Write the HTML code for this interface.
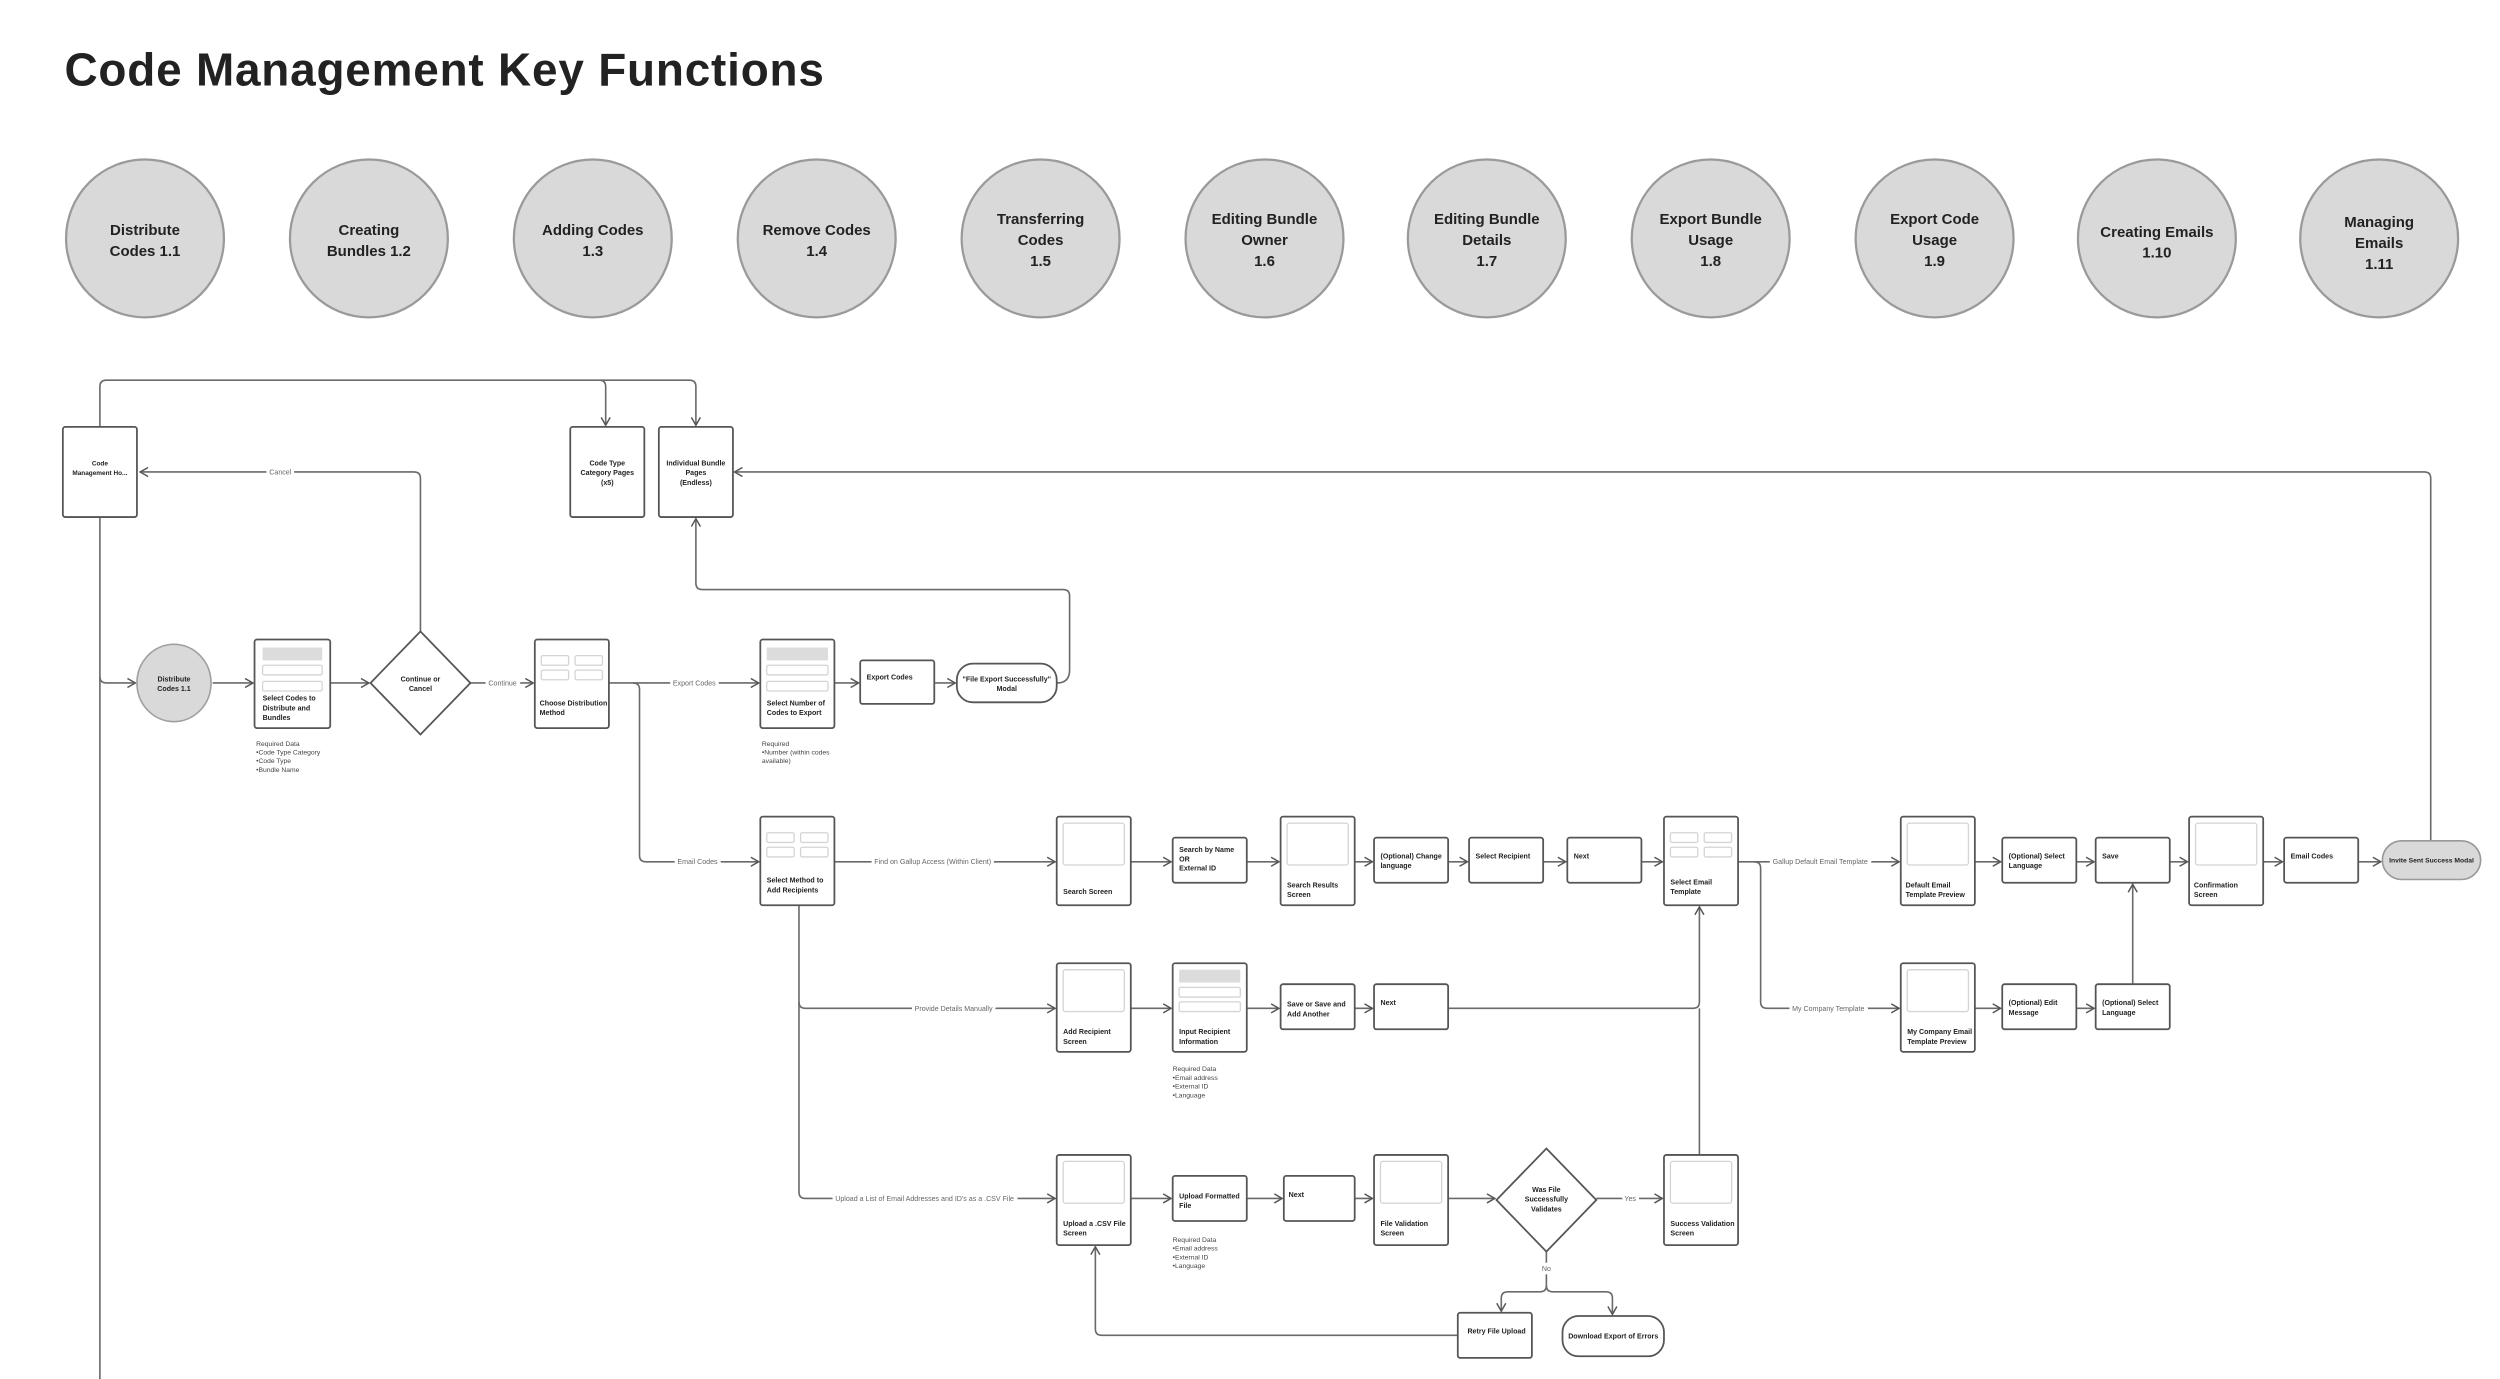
<!DOCTYPE html>
<html><head><meta charset="utf-8"><style>
html,body{margin:0;padding:0;background:#fff;}
svg{display:block;font-family:"Liberation Sans",sans-serif;}
.l{fill:none;stroke:#6a6a6a;stroke-width:1;}
.b{fill:#fff;stroke:#555;stroke-width:1.1;}
.p{fill:#fff;stroke:#d4d4d4;stroke-width:0.8;}
.g{fill:#dcdcdc;stroke:none;}
.t{font-size:4.4px;font-weight:bold;fill:#222;}
.n{font-size:4.2px;fill:#444;}
.lb{font-size:4.4px;fill:#666;paint-order:stroke;stroke:#fff;stroke-width:4px;}
.c{font-size:9.3px;font-weight:bold;fill:#222;text-anchor:middle;}
.m{text-anchor:middle;}
</style></head><body>
<svg width="2500" height="1379" viewBox="0 0 1552 856.1" xmlns="http://www.w3.org/2000/svg">
<defs><marker id="a" viewBox="0 0 10 10" refX="9" refY="5" markerWidth="7" markerHeight="7" orient="auto" markerUnits="userSpaceOnUse"><path d="M2,1 L9,5 L2,9" fill="none" stroke="#555" stroke-width="1.3"/></marker></defs>
<text x="40" y="53" style="font-size:28.5px;font-weight:bold;fill:#222;letter-spacing:0.5px">Code Management Key Functions</text>
<g fill="#d9d9d9" stroke="#9a9a9a" stroke-width="1.4">
<circle cx="90" cy="148" r="49"/><circle cx="229" cy="148" r="49"/><circle cx="368" cy="148" r="49"/><circle cx="507" cy="148" r="49"/><circle cx="646" cy="148" r="49"/><circle cx="785" cy="148" r="49"/><circle cx="923" cy="148" r="49"/><circle cx="1062" cy="148" r="49"/><circle cx="1201" cy="148" r="49"/><circle cx="1339" cy="148" r="49"/><circle cx="1477" cy="148" r="49"/></g>
<text class="c" x="90" y="146">Distribute<tspan x="90" dy="13">Codes 1.1</tspan></text>
<text class="c" x="229" y="146">Creating<tspan x="229" dy="13">Bundles 1.2</tspan></text>
<text class="c" x="368" y="146">Adding Codes<tspan x="368" dy="13">1.3</tspan></text>
<text class="c" x="507" y="146">Remove Codes<tspan x="507" dy="13">1.4</tspan></text>
<text class="c" x="646" y="139">Transferring<tspan x="646" dy="13">Codes</tspan><tspan x="646" dy="13">1.5</tspan></text>
<text class="c" x="785" y="139">Editing Bundle<tspan x="785" dy="13">Owner</tspan><tspan x="785" dy="13">1.6</tspan></text>
<text class="c" x="923" y="139">Editing Bundle<tspan x="923" dy="13">Details</tspan><tspan x="923" dy="13">1.7</tspan></text>
<text class="c" x="1062" y="139">Export Bundle<tspan x="1062" dy="13">Usage</tspan><tspan x="1062" dy="13">1.8</tspan></text>
<text class="c" x="1201" y="139">Export Code<tspan x="1201" dy="13">Usage</tspan><tspan x="1201" dy="13">1.9</tspan></text>
<text class="c" x="1339" y="147">Creating Emails<tspan x="1339" dy="13">1.10</tspan></text>
<text class="c" x="1477" y="141">Managing<tspan x="1477" dy="13">Emails</tspan><tspan x="1477" dy="13">1.11</tspan></text>

<path class="l" d="M62,265 V240 Q62,236 66,236 H428 Q432,236 432,240 V264" marker-end="url(#a)"/>
<path class="l" d="M372,236 Q376,236 376,240 V264" marker-end="url(#a)"/>
<path class="l" d="M62,321 V866"/>
<path class="l" d="M62,420 Q62,424 66,424 H84" marker-end="url(#a)"/>
<path class="l" d="M261,393 V297 Q261,293 257,293 H87" marker-end="url(#a)"/>
<text class="lb m" x="174" y="294.5">Cancel</text>
<path class="l" d="M132,424 H157" marker-end="url(#a)"/>
<path class="l" d="M205,424 H229" marker-end="url(#a)"/>
<path class="l" d="M292,424 H331" marker-end="url(#a)"/>
<text class="lb m" x="312" y="425.5">Continue</text>
<path class="l" d="M378,424 H471" marker-end="url(#a)"/>
<text class="lb m" x="431" y="425.5">Export Codes</text>
<path class="l" d="M393,424 Q397,424 397,428 V531 Q397,535 401,535 H471" marker-end="url(#a)"/>
<text class="lb m" x="433" y="536.5">Email Codes</text>
<path class="l" d="M518,424 H533" marker-end="url(#a)"/>
<path class="l" d="M580,424 H593" marker-end="url(#a)"/>
<path class="l" d="M656,424 Q664,424 664,416 V370 Q664,366 660,366 H436 Q432,366 432,362 V322" marker-end="url(#a)"/>
<path class="l" d="M1509,522 V297 Q1509,293 1505,293 H456" marker-end="url(#a)"/>
<path class="l" d="M518,535 H655" marker-end="url(#a)"/>
<text class="lb m" x="579" y="536.5">Find on Gallup Access (Within Client)</text>
<path class="l" d="M702,535 H727" marker-end="url(#a)"/>
<path class="l" d="M774,535 H794" marker-end="url(#a)"/>
<path class="l" d="M841,535 H852" marker-end="url(#a)"/>
<path class="l" d="M899,535 H911" marker-end="url(#a)"/>
<path class="l" d="M958,535 H972" marker-end="url(#a)"/>
<path class="l" d="M1019,535 H1032" marker-end="url(#a)"/>
<path class="l" d="M1079,535 H1179" marker-end="url(#a)"/>
<text class="lb m" x="1130" y="536.5">Gallup Default Email Template</text>
<path class="l" d="M1226,535 H1242" marker-end="url(#a)"/>
<path class="l" d="M1289,535 H1300" marker-end="url(#a)"/>
<path class="l" d="M1347,535 H1358" marker-end="url(#a)"/>
<path class="l" d="M1405,535 H1417" marker-end="url(#a)"/>
<path class="l" d="M1464,535 H1478" marker-end="url(#a)"/>
<path class="l" d="M496,562 V740 Q496,744 500,744 H655" marker-end="url(#a)"/>
<path class="l" d="M496,622 Q496,626 500,626 H655" marker-end="url(#a)"/>
<text class="lb m" x="592" y="627.5">Provide Details Manually</text>
<text class="lb m" x="574" y="745.5">Upload a List of Email Addresses and ID's as a .CSV File</text>
<path class="l" d="M702,626 H727" marker-end="url(#a)"/>
<path class="l" d="M774,626 H794" marker-end="url(#a)"/>
<path class="l" d="M841,626 H852" marker-end="url(#a)"/>
<path class="l" d="M899,626 H1051 Q1055,626 1055,622 V563" marker-end="url(#a)"/>
<path class="l" d="M1055,717 V626"/>
<path class="l" d="M1089,535 Q1093,535 1093,539 V622 Q1093,626 1097,626 H1179" marker-end="url(#a)"/>
<text class="lb m" x="1135" y="627.5">My Company Template</text>
<path class="l" d="M1226,626 H1242" marker-end="url(#a)"/>
<path class="l" d="M1289,626 H1300" marker-end="url(#a)"/>
<path class="l" d="M1324,611 V549" marker-end="url(#a)"/>
<path class="l" d="M702,744 H727" marker-end="url(#a)"/>
<path class="l" d="M774,744 H796" marker-end="url(#a)"/>
<path class="l" d="M841,744 H852" marker-end="url(#a)"/>
<path class="l" d="M899,744 H928" marker-end="url(#a)"/>
<path class="l" d="M991,744 H1032" marker-end="url(#a)"/>
<text class="lb m" x="1012" y="745.5">Yes</text>
<path class="l" d="M960,777 V798 Q960,802 956,802 H936 Q932,802 932,806 V814" marker-end="url(#a)"/>
<path class="l" d="M960,798 Q960,802 964,802 H997 Q1001,802 1001,806 V816" marker-end="url(#a)"/>
<text class="lb m" x="960" y="789">No</text>
<path class="l" d="M905,829 H684 Q680,829 680,825 V774" marker-end="url(#a)"/>

<rect class="b" x="39" y="265" width="46" height="56" rx="1.5"/>
<text class="t m" x="62" y="289" style="font-size:4px">Code<tspan x="62" dy="6">Management Ho...</tspan></text>
<rect class="b" x="354" y="265" width="46" height="56" rx="1.5"/>
<text class="t m" x="377" y="289">Code Type<tspan x="377" dy="6">Category Pages</tspan><tspan x="377" dy="6">(x5)</tspan></text>
<rect class="b" x="409" y="265" width="46" height="56" rx="1.5"/>
<text class="t m" x="432" y="289">Individual Bundle<tspan x="432" dy="6">Pages</tspan><tspan x="432" dy="6">(Endless)</tspan></text>

<ellipse cx="108" cy="424" rx="23" ry="24" fill="#d9d9d9" stroke="#a0a0a0" stroke-width="1"/>
<text class="t m" x="108" y="423">Distribute<tspan x="108" dy="6">Codes 1.1</tspan></text>

<rect class="b" x="158" y="397" width="47" height="55" rx="1.5"/>
<rect class="g" x="163" y="402" width="37" height="8"/>
<rect class="p" x="163" y="413" width="37" height="6" rx="1"/><rect class="p" x="163" y="423" width="37" height="6" rx="1"/>
<text class="t" x="163" y="435">Select Codes to<tspan x="163" dy="6">Distribute and</tspan><tspan x="163" dy="6">Bundles</tspan></text>
<text class="n" x="159" y="463">Required Data<tspan x="159" dy="5.4">•Code Type Category</tspan><tspan x="159" dy="5.4">•Code Type</tspan><tspan x="159" dy="5.4">•Bundle Name</tspan></text>

<polygon points="261,392 292,424 261,456 230,424" fill="#fff" stroke="#555" stroke-width="1.1"/>
<text class="t m" x="261" y="423">Continue or<tspan x="261" dy="6">Cancel</tspan></text>

<rect class="b" x="332" y="397" width="46" height="55" rx="1.5"/>
<rect class="p" x="336" y="407" width="17" height="6" rx="1"/><rect class="p" x="357" y="407" width="17" height="6" rx="1"/>
<rect class="p" x="336" y="416" width="17" height="6" rx="1"/><rect class="p" x="357" y="416" width="17" height="6" rx="1"/>
<text class="t" x="335" y="438">Choose Distribution<tspan x="335" dy="6">Method</tspan></text>

<rect class="b" x="472" y="397" width="46" height="55" rx="1.5"/>
<rect class="g" x="476" y="402" width="38" height="8"/>
<rect class="p" x="476" y="413" width="38" height="6" rx="1"/><rect class="p" x="476" y="423" width="38" height="6" rx="1"/>
<text class="t" x="476" y="438">Select Number of<tspan x="476" dy="6">Codes to Export</tspan></text>
<text class="n" x="473" y="463">Required<tspan x="473" dy="5.4">•Number (within codes</tspan><tspan x="473" dy="5.4">available)</tspan></text>

<rect class="b" x="534" y="410" width="46" height="27" rx="1.5"/>
<text class="t" x="538" y="422">Export Codes</text>
<rect class="b" x="594" y="412" width="62" height="24" rx="10"/>
<text class="t m" x="625" y="423">"File Export Successfully"<tspan x="625" dy="6">Modal</tspan></text>

<rect class="b" x="472" y="507" width="46" height="55" rx="1.5"/>
<rect class="p" x="476" y="517" width="17" height="6" rx="1"/><rect class="p" x="497" y="517" width="17" height="6" rx="1"/>
<rect class="p" x="476" y="526" width="17" height="6" rx="1"/><rect class="p" x="497" y="526" width="17" height="6" rx="1"/>
<text class="t" x="476" y="548">Select Method to<tspan x="476" dy="6">Add Recipients</tspan></text>

<rect class="b" x="656" y="507" width="46" height="55" rx="1.5"/><rect class="p" x="660" y="511" width="38" height="26" rx="1.5"/>
<text class="t" x="660" y="555">Search Screen</text>
<rect class="b" x="728" y="520" width="46" height="28" rx="1.5"/>
<text class="t" x="732" y="529">Search by Name<tspan x="732" dy="5.7">OR</tspan><tspan x="732" dy="5.7">External ID</tspan></text>
<rect class="b" x="795" y="507" width="46" height="55" rx="1.5"/><rect class="p" x="799" y="511" width="38" height="26" rx="1.5"/>
<text class="t" x="799" y="551">Search Results<tspan x="799" dy="6">Screen</tspan></text>
<rect class="b" x="853" y="520" width="46" height="28" rx="1.5"/>
<text class="t" x="857" y="533">(Optional) Change<tspan x="857" dy="6">language</tspan></text>
<rect class="b" x="912" y="520" width="46" height="28" rx="1.5"/>
<text class="t" x="916" y="533">Select Recipient</text>
<rect class="b" x="973" y="520" width="46" height="28" rx="1.5"/>
<text class="t" x="977" y="533">Next</text>
<rect class="b" x="1033" y="507" width="46" height="55" rx="1.5"/>
<rect class="p" x="1037" y="517" width="17" height="6" rx="1"/><rect class="p" x="1058" y="517" width="17" height="6" rx="1"/>
<rect class="p" x="1037" y="526" width="17" height="6" rx="1"/><rect class="p" x="1058" y="526" width="17" height="6" rx="1"/>
<text class="t" x="1037" y="549">Select Email<tspan x="1037" dy="6">Template</tspan></text>
<rect class="b" x="1180" y="507" width="46" height="55" rx="1.5"/><rect class="p" x="1184" y="511" width="38" height="26" rx="1.5"/>
<text class="t" x="1183" y="551">Default Email<tspan x="1183" dy="6">Template Preview</tspan></text>
<rect class="b" x="1243" y="520" width="46" height="28" rx="1.5"/>
<text class="t" x="1247" y="533">(Optional) Select<tspan x="1247" dy="6">Language</tspan></text>
<rect class="b" x="1301" y="520" width="46" height="28" rx="1.5"/>
<text class="t" x="1305" y="533">Save</text>
<rect class="b" x="1359" y="507" width="46" height="55" rx="1.5"/><rect class="p" x="1363" y="511" width="38" height="26" rx="1.5"/>
<text class="t" x="1362" y="551">Confirmation<tspan x="1362" dy="6">Screen</tspan></text>
<rect class="b" x="1418" y="520" width="46" height="28" rx="1.5"/>
<text class="t" x="1422" y="533">Email Codes</text>
<rect x="1479" y="522" width="61" height="24" rx="12" fill="#d9d9d9" stroke="#999" stroke-width="1"/>
<text class="t m" x="1509.5" y="535.5" style="font-size:4.2px">Invite Sent Success Modal</text>

<rect class="b" x="656" y="598" width="46" height="55" rx="1.5"/><rect class="p" x="660" y="602" width="38" height="26" rx="1.5"/>
<text class="t" x="660" y="642">Add Recipient<tspan x="660" dy="6">Screen</tspan></text>
<rect class="b" x="728" y="598" width="46" height="55" rx="1.5"/>
<rect class="g" x="732" y="602" width="38" height="8"/>
<rect class="p" x="732" y="613" width="38" height="6" rx="1"/><rect class="p" x="732" y="622" width="38" height="6" rx="1"/>
<text class="t" x="732" y="642">Input Recipient<tspan x="732" dy="6">Information</tspan></text>
<text class="n" x="728" y="665">Required Data<tspan x="728" dy="5.4">•Email address</tspan><tspan x="728" dy="5.4">•External ID</tspan><tspan x="728" dy="5.4">•Language</tspan></text>
<rect class="b" x="795" y="611" width="46" height="28" rx="1.5"/>
<text class="t" x="799" y="625">Save or Save and<tspan x="799" dy="6">Add Another</tspan></text>
<rect class="b" x="853" y="611" width="46" height="28" rx="1.5"/>
<text class="t" x="857" y="624">Next</text>
<rect class="b" x="1180" y="598" width="46" height="55" rx="1.5"/><rect class="p" x="1184" y="602" width="38" height="26" rx="1.5"/>
<text class="t" x="1184" y="642">My Company Email<tspan x="1184" dy="6">Template Preview</tspan></text>
<rect class="b" x="1243" y="611" width="46" height="28" rx="1.5"/>
<text class="t" x="1247" y="624">(Optional) Edit<tspan x="1247" dy="6">Message</tspan></text>
<rect class="b" x="1301" y="611" width="46" height="28" rx="1.5"/>
<text class="t" x="1305" y="624">(Optional) Select<tspan x="1305" dy="6">Language</tspan></text>

<rect class="b" x="656" y="717" width="46" height="56" rx="1.5"/><rect class="p" x="660" y="721" width="38" height="26" rx="1.5"/>
<text class="t" x="660" y="761">Upload a .CSV File<tspan x="660" dy="6">Screen</tspan></text>
<rect class="b" x="728" y="730" width="46" height="28" rx="1.5"/>
<text class="t" x="732" y="744">Upload Formatted<tspan x="732" dy="6">File</tspan></text>
<text class="n" x="728" y="771">Required Data<tspan x="728" dy="5.4">•Email address</tspan><tspan x="728" dy="5.4">•External ID</tspan><tspan x="728" dy="5.4">•Language</tspan></text>
<rect class="b" x="797" y="730" width="44" height="28" rx="1.5"/>
<text class="t" x="800" y="743">Next</text>
<rect class="b" x="853" y="717" width="46" height="56" rx="1.5"/><rect class="p" x="857" y="721" width="38" height="26" rx="1.5"/>
<text class="t" x="857" y="761">File Validation<tspan x="857" dy="6">Screen</tspan></text>
<polygon points="960,713 991,745 960,777 929,745" fill="#fff" stroke="#555" stroke-width="1.1"/>
<text class="t m" x="960" y="740">Was File<tspan x="960" dy="6">Successfully</tspan><tspan x="960" dy="6">Validates</tspan></text>
<rect class="b" x="1033" y="717" width="46" height="56" rx="1.5"/><rect class="p" x="1037" y="721" width="38" height="26" rx="1.5"/>
<text class="t" x="1037" y="761">Success Validation<tspan x="1037" dy="6">Screen</tspan></text>
<rect class="b" x="905" y="815" width="46" height="28" rx="1.5"/>
<text class="t" x="911" y="828">Retry File Upload</text>
<rect class="b" x="970" y="817" width="63" height="25" rx="10"/>
<text class="t m" x="1001.5" y="831">Download Export of Errors</text>
</svg>
</body></html>
